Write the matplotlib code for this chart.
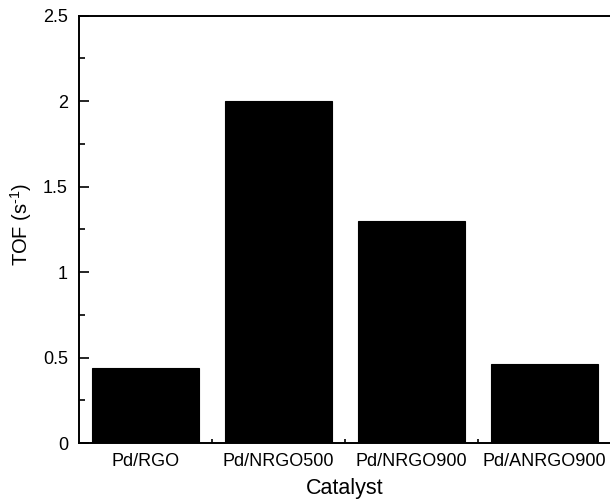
import matplotlib
matplotlib.use("Agg")
import matplotlib.pyplot as plt
from matplotlib.ticker import MultipleLocator, FixedLocator

plt.rcParams['font.family'] = ['Liberation Sans', 'DejaVu Sans']
plt.rcParams['mathtext.fontset'] = 'custom'
plt.rcParams['mathtext.rm'] = 'Liberation Sans'

catalysts = ["Pd/RGO", "Pd/NRGO500", "Pd/NRGO900", "Pd/ANRGO900"]
tof = [0.44, 2.0, 1.30, 0.46]
yticks = [0, 0.5, 1, 1.5, 2, 2.5]
ytick_labels = ["0", "0.5", "1", "1.5", "2", "2.5"]

fig = plt.figure(figsize=(6.10, 5.04), dpi=100)
ax = fig.add_axes([79/610, 1-443/504, 532/610, (443-15.7)/504])

pos = list(range(1, len(catalysts) + 1))
ax.bar(pos, tof, width=0.8, color='black', edgecolor='black', linewidth=0.8)

ax.set_xlim(0.5, len(catalysts) + 0.5)
ax.set_ylim(0, 2.5)
ax.set_xticks(pos)
ax.set_xticklabels(catalysts)
ax.xaxis.set_minor_locator(FixedLocator([p + 0.5 for p in pos[:-1]]))
ax.set_yticks(yticks)
ax.set_yticklabels(ytick_labels)
ax.yaxis.set_minor_locator(MultipleLocator(0.25))

ax.tick_params(axis='both', which='both', direction='in', labelsize=13, width=1.2)
ax.tick_params(axis='x', which='major', length=0, pad=7)
ax.tick_params(axis='x', which='minor', length=3)
ax.tick_params(axis='y', which='major', length=7, pad=8)
ax.tick_params(axis='y', which='minor', length=4)
for s in ax.spines.values():
    s.set_linewidth(1.4)

ax.set_xlabel("Catalyst", fontsize=15.5, labelpad=6)
ax.set_ylabel(r"TOF (s$^{\text{-1}}$)", fontsize=14.5)
ax.yaxis.set_label_coords(-0.085, 0.512)

fig.savefig("out.png", dpi=100)
